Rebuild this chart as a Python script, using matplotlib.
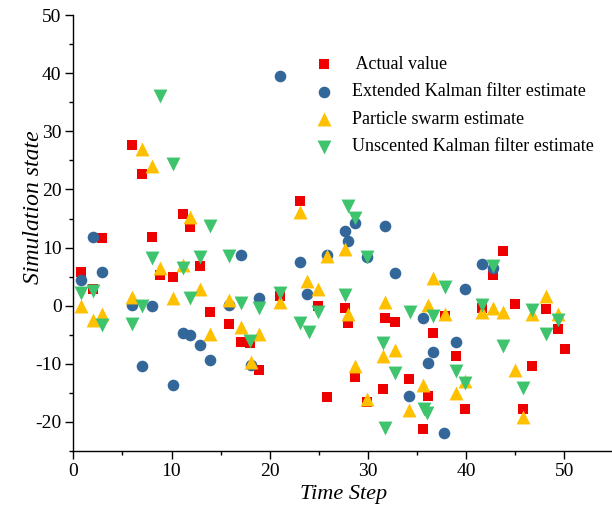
import matplotlib
matplotlib.use('Agg')
import matplotlib.pyplot as plt
from matplotlib.ticker import MultipleLocator

plt.rcParams['font.family'] = 'Liberation Serif'
plt.rcParams['axes.unicode_minus'] = False

# Actual value
redX = [0.75, 2.04, 2.95, 5.95, 6.97, 7.98, 8.85, 10.12, 11.2, 11.88, 12.9, 13.9, 15.89, 17.05, 18.0,
        18.94, 21.05, 23.09, 24.95, 25.8, 27.67, 28.0, 28.69, 29.94, 31.5, 31.74, 32.76, 34.22, 35.64, 36.1,
        36.66, 37.85, 38.94, 39.89, 41.65, 42.7, 43.79, 44.98, 45.82, 46.68, 48.14, 49.33, 50.07]
redY = [5.8, 2.9, 11.7, 27.7, 22.7, 11.8, 5.3, 5.0, 15.7, 13.6, 6.8, -1.1, -3.2, -6.3, -6.4,
        -11.1, 1.6, 18.1, -0.1, -15.7, -0.4, -3.0, -12.3, -16.6, -14.3, -2.1, -2.8, -12.6, -21.2, -15.5,
        -4.7, -1.8, -8.6, -17.7, -0.4, 5.2, 9.5, 0.3, -17.8, -10.4, -0.5, -4.0, -7.5]

# Extended Kalman filter estimate
blueX = [0.75, 2.04, 2.95, 5.95, 6.97, 7.98, 10.12, 11.2, 11.88, 12.9, 13.9, 15.89, 17.05, 18.07, 18.94,
         21.05, 23.09, 23.77, 25.8, 27.67, 28.0, 28.69, 29.94, 31.74, 32.76, 34.22, 35.64, 36.1, 36.66, 37.75,
         38.94, 39.89, 41.65, 42.7]
blueY = [4.5, 11.8, 5.85, 0.2, -10.4, 0.0, -13.7, -4.7, -5.1, -6.8, -9.3, 0.2, 8.7, -10.2, 1.4,
         39.5, 7.6, 2.0, 8.7, 12.8, 11.2, 14.3, 8.3, 13.8, 5.6, -15.5, -2.1, -9.9, -8.0, -21.9,
         -6.3, 2.8, 7.2, 6.5]

# Particle swarm estimate
yellowX = [0.75, 2.04, 2.95, 5.95, 6.97, 7.98, 8.85, 10.12, 11.2, 11.88, 12.9, 13.9, 15.89, 17.05, 18.07,
           18.94, 21.05, 23.09, 23.77, 24.95, 25.8, 27.67, 28.0, 28.69, 29.94, 31.5, 31.74, 32.76, 34.22, 35.64,
           36.1, 36.66, 37.85, 38.94, 39.89, 41.65, 42.75, 43.79, 44.98, 45.82, 46.68, 48.14, 49.33]
yellowY = [0.0, -2.4, -1.5, 1.5, 27.0, 24.1, 6.5, 1.3, 7.0, 15.3, 2.9, -4.8, 0.9, -3.7, -9.6,
           -4.8, 0.7, 16.2, 4.2, 2.8, 8.5, 9.8, -1.5, -10.4, -16.0, -8.7, 0.6, -7.7, -17.9, -13.7,
           0.1, 4.8, -1.5, -15.0, -13.0, -1.0, -0.4, -1.0, -11.0, -19.2, -1.5, 1.7, -1.4]

# Unscented Kalman filter estimate
greenX = [0.75, 2.04, 2.95, 5.95, 6.97, 7.98, 8.85, 10.12, 11.2, 11.88, 12.9, 13.9, 15.89, 17.05, 18.0,
          18.94, 21.05, 23.09, 24.0, 24.95, 27.67, 28.0, 28.69, 29.94, 31.5, 31.74, 32.76, 34.3, 35.7, 36.05,
          36.66, 37.85, 38.94, 39.89, 41.65, 42.7, 43.79, 45.82, 46.68, 48.14, 49.33]
greenY = [2.2, 2.6, -3.3, -3.2, 0.0, 8.2, 36.1, 24.3, 6.5, 1.3, 8.3, 13.8, 8.6, 0.5, -6.1,
          -0.4, 2.2, -3.0, -4.6, -1.0, 1.9, 17.1, 15.1, 8.4, -6.5, -21.1, -11.5, -1.0, -17.8, -18.4,
          -1.8, 3.3, -11.3, -13.3, 0.1, 6.9, -7.0, -14.2, -0.8, -4.8, -2.4]

labels = [' Actual value', 'Extended Kalman filter estimate',
          'Particle swarm estimate', 'Unscented Kalman filter estimate']

fig = plt.figure(figsize=(6.12, 5.08), dpi=100)
fig.patch.set_facecolor('w')
ax = fig.add_axes([0.1198, 0.1122, 0.8825, 0.858])

ax.scatter(redX, redY, marker='s', s=52, color='#EE0000', linewidths=0, label=labels[0])
ax.scatter(blueX, blueY, marker='o', s=70, color='#336699', linewidths=0, label=labels[1])
ax.scatter(yellowX, yellowY, marker='^', s=100, color='#FFC000', linewidths=0, label=labels[2])
ax.scatter(greenX, greenY, marker='v', s=100, color='#3DC46D', linewidths=0, label=labels[3])

ax.set_xlim(0, 55)
ax.set_ylim(-25, 50)
ax.xaxis.set_major_locator(MultipleLocator(10))
ax.xaxis.set_minor_locator(MultipleLocator(5))
ax.yaxis.set_major_locator(MultipleLocator(10))
ax.yaxis.set_minor_locator(MultipleLocator(5))
ax.set_yticks([-20, -10, 0, 10, 20, 30, 40, 50])

for side in ['top', 'right']:
    ax.spines[side].set_visible(False)
for side in ['left', 'bottom']:
    ax.spines[side].set_linewidth(1.0)

ax.tick_params(which='major', direction='out', length=5.5, width=1.0, labelsize=14, pad=3)
ax.tick_params(which='minor', direction='out', length=3, width=1.0)

ax.set_xlabel('Time Step', fontsize=16, fontstyle='italic')
ax.set_ylabel('Simulation state', fontsize=17, fontstyle='italic')
ax.xaxis.set_label_coords(0.5, -0.078)
ax.yaxis.set_label_coords(-0.055, 0.56)

ax.legend(loc='upper left', bbox_to_anchor=(0.507, 0.890), bbox_transform=fig.transFigure,
          frameon=False, fontsize=13, handlelength=1.5, handletextpad=0.8,
          borderpad=0, borderaxespad=0, labelspacing=0.58)

fig.savefig('out.png', dpi=100)
